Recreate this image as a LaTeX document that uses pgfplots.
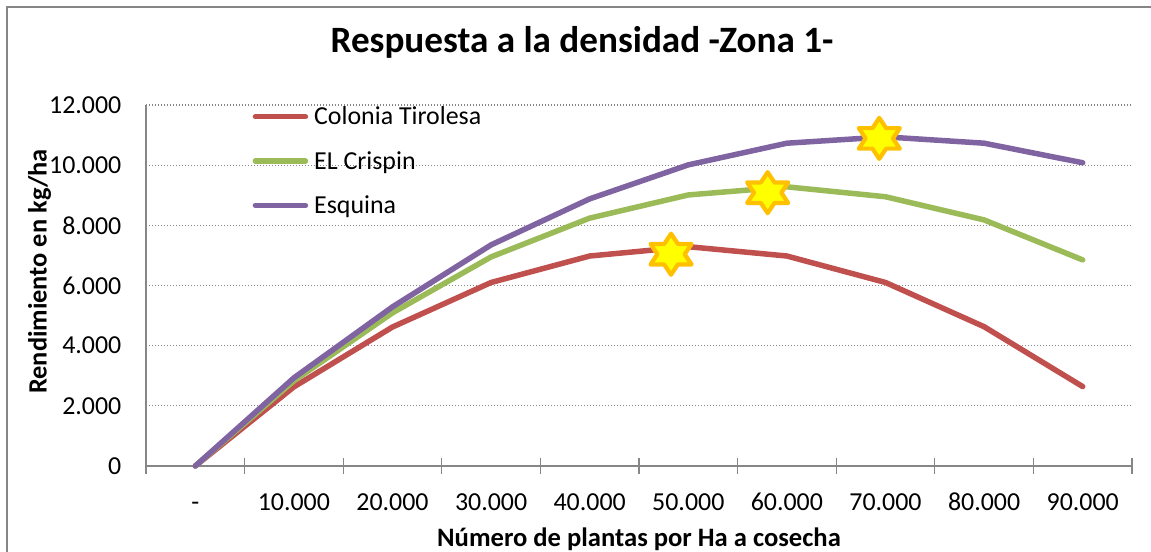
\documentclass[border=0pt]{standalone}
\usepackage{pgfplots}
\pgfplotsset{compat=1.18}
\usepackage{fontspec}
\setmainfont{Carlito}
\definecolor{cred}{HTML}{C0504D}
\definecolor{cgreen}{HTML}{9BBB59}
\definecolor{cpurple}{HTML}{8064A2}
\definecolor{cgray}{HTML}{868686}
\definecolor{cgold}{HTML}{FFC000}
\definecolor{cyell}{HTML}{FFFF00}

\pgfdeclareplotmark{hexstar}{%
 \pgfpathmoveto{\pgfqpoint{0pt}{\pgfplotmarksize}}%
 \pgfpathlineto{\pgfqpoint{0.333\pgfplotmarksize}{0.5\pgfplotmarksize}}%
 \pgfpathlineto{\pgfqpoint{\pgfplotmarksize}{0.5\pgfplotmarksize}}%
 \pgfpathlineto{\pgfqpoint{0.667\pgfplotmarksize}{0pt}}%
 \pgfpathlineto{\pgfqpoint{\pgfplotmarksize}{-0.5\pgfplotmarksize}}%
 \pgfpathlineto{\pgfqpoint{0.333\pgfplotmarksize}{-0.5\pgfplotmarksize}}%
 \pgfpathlineto{\pgfqpoint{0pt}{-\pgfplotmarksize}}%
 \pgfpathlineto{\pgfqpoint{-0.333\pgfplotmarksize}{-0.5\pgfplotmarksize}}%
 \pgfpathlineto{\pgfqpoint{-\pgfplotmarksize}{-0.5\pgfplotmarksize}}%
 \pgfpathlineto{\pgfqpoint{-0.667\pgfplotmarksize}{0pt}}%
 \pgfpathlineto{\pgfqpoint{-\pgfplotmarksize}{0.5\pgfplotmarksize}}%
 \pgfpathlineto{\pgfqpoint{-0.333\pgfplotmarksize}{0.5\pgfplotmarksize}}%
 \pgfpathclose
 \pgfusepathqfillstroke
}

\begin{document}
\begin{tikzpicture}
\useasboundingbox (0bp,0bp) rectangle (1151bp,552bp);
\draw[cgray, line width=1.5bp] (7bp,0bp) -- (7bp,545bp) -- (1151bp,545bp);
\begin{axis}[
  at={(146bp,86bp)}, anchor=south west, scale only axis,
  width=986bp, height=361bp,
  xmin=0, xmax=10, ymin=0, ymax=12000,
  clip=false,
  axis x line=bottom, axis y line=left,
  axis line style={cgray, line width=1.3bp, -},
  xtick={0,...,10}, x tick label as interval,
  xticklabels={-,10.000,20.000,30.000,40.000,50.000,60.000,70.000,80.000,90.000},
  x tick style={cgray, line width=1.3bp},
  major tick length=15bp, tick align=center,
  ytick={0,2000,...,12000}, y tick style={draw=none},
  scaled y ticks=false,
  ymajorgrids, grid style={cgray, line width=1.2bp, dash pattern=on 1.2bp off 1.8bp},
  yticklabel style={anchor=east, inner sep=0pt, xshift=-17bp},
  xticklabel style={anchor=base, inner sep=0pt, yshift=-37bp},
  tick label style={font=\fontsize{26}{30}\selectfont},
  /pgf/number format/1000 sep={.},
  /pgf/number format/assume math mode=true,
  legend cell align=left,
  legend image code/.code={\draw[#1, line width=5.5bp, line cap=round] (0bp,0bp) -- (50bp,0bp);},
  legend style={draw=none, fill=none, at={(0.108,0.995)}, anchor=north west,
    font=\fontsize{26}{30}\selectfont, inner sep=0pt, row sep=25bp,
    nodes={inner sep=0pt}, column sep=6bp},
]
\addplot[cred, line width=5.5bp, line join=round, line cap=round] coordinates {
 (0.5,0) (1.5,2630) (2.5,4620) (3.5,6100) (4.5,6980) (5.5,7290) (6.5,6980) (7.5,6100) (8.5,4630) (9.5,2640)};
\addlegendentry{Colonia Tirolesa}
\addplot[cgreen, line width=5.5bp, line join=round, line cap=round] coordinates {
 (0.5,0) (1.5,2830) (2.5,5090) (3.5,6950) (4.5,8240) (5.5,9010) (6.5,9280) (7.5,8950) (8.5,8180) (9.5,6850)};
\addlegendentry{EL Crispin}
\addplot[cpurple, line width=5.5bp, line join=round, line cap=round] coordinates {
 (0.5,0) (1.5,2930) (2.5,5290) (3.5,7350) (4.5,8880) (5.5,10010) (6.5,10730) (7.5,10940) (8.5,10730) (9.5,10080)};
\addlegendentry{Esquina}
\addplot[only marks, mark=hexstar, mark size=20.5bp, forget plot,
  mark options={fill=cyell, draw=cgold, line width=4.2bp, line join=round}] coordinates {
 (5.325,7040) (6.305,9085) (7.437,10890)};
\end{axis}
\node[anchor=base, font=\bfseries\fontsize{37.3}{42}\selectfont] at (582bp,499.3bp) {Respuesta a la densidad -Zona 1-};
\node[anchor=base, font=\bfseries\fontsize{26.7}{30}\selectfont] at (639bp,6bp) {Número de plantas por Ha a cosecha};
\node[anchor=base, rotate=90, font=\bfseries\fontsize{26.5}{30}\selectfont] at (46.5bp,280.5bp) {Rendimiento en kg/ha};
\end{tikzpicture}
\end{document}
